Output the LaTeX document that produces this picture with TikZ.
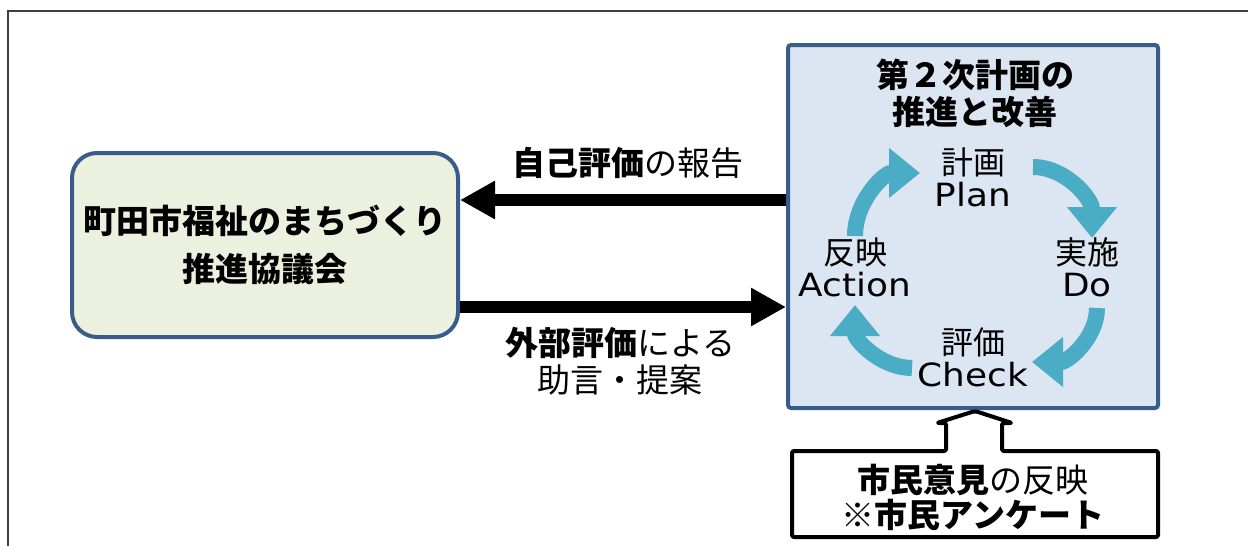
\documentclass[tikz,border=0pt]{standalone}
\usepackage{fontspec}
\setmainfont{Noto Sans CJK JP}
\newfontfamily\latinf[FakeStretch=1.12]{DejaVu Sans}
\usetikzlibrary{arrows.meta,calc}
\definecolor{boxblue}{HTML}{385D8A}
\definecolor{planfill}{HTML}{DCE6F2}
\definecolor{councilfill}{HTML}{EBF1DE}
\definecolor{cyc}{HTML}{4BACC6}
\definecolor{framegray}{HTML}{3F3F3F}
\begin{document}
\begin{tikzpicture}[x=1pt,y=-1pt,
  frameline/.style={draw=framegray,line width=1.5pt},
  councilbox/.style={draw=boxblue,line width=4pt,fill=councilfill,rounded corners=25pt,
    minimum width=386pt,minimum height=184pt,inner sep=0pt,align=center,
    font=\fontsize{33}{48}\selectfont\bfseries},
  planbox/.style={draw=boxblue,line width=4pt,fill=planfill,rounded corners=3pt,
    minimum width=370pt,minimum height=363pt,inner sep=0pt},
  titletext/.style={inner sep=0pt,align=center,font=\fontsize{33}{37}\selectfont\bfseries},
  cyclabel/.style={inner sep=0pt,align=center,font=\fontsize{32}{32}\selectfont},
  midlabel/.style={inner sep=0pt,align=center,font=\fontsize{33}{37}\selectfont},
  calloutlabel/.style={inner sep=0pt,align=center,font=\fontsize{33}{35}\selectfont},
  bigarrow/.style={draw=black,line width=12pt,-{Triangle[length=35pt,width=36pt]}},
  cycarrow/.style={draw=cyc,line width=16pt,-{Triangle[length=31pt,width=48pt]}},
  calloutline/.style={draw=black,line width=4pt,rounded corners=2pt,line join=round}
]
\useasboundingbox (0,0) rectangle (1248,546);
\fill[white] (0,0) rectangle (1248,546);
\draw[frameline] (8,548) -- (8,11) -- (1250,11);

% boxes
\node[councilbox] (council) at (265,245) {町田市福祉のまちづくり\\推進協議会};
\node[planbox] (plan) at (973,226.5) {};
\node[titletext] (title) at (975,93) {第２次計画の\\推進と改善};

% cycle labels
\node[cyclabel] (pl) at (973,177) {計画\\{\latinf Plan}};
\node[cyclabel] (do) at (1087,267) {実施\\{\latinf Do}};
\node[cyclabel] (ch) at (973,357) {評価\\{\latinf Check}};
\node[cyclabel] (ac) at (855,267) {反映\\{\latinf Action}};

% cycle arrows
\draw[cycarrow] (1033,167) arc[start angle=-90,end angle=0,x radius=59,y radius=71];
\draw[cycarrow] (1097,308) arc[start angle=0,end angle=90,x radius=65,y radius=54];
\draw[cycarrow] (912,368) arc[start angle=90,end angle=180,x radius=57,y radius=63];
\draw[cycarrow] (855,236) arc[start angle=180,end angle=270,x radius=65,y radius=63];

% big arrows
\draw[bigarrow] ($(plan.west)+(0,-26.5)$) -- ($(council.east)+(0,-45)$);
\draw[bigarrow] ($(council.east)+(0,62)$) -- ($(plan.west)+(0,80.5)$);

% labels
\node[midlabel] (selfeval) at (628,163) {{\bfseries 自己評価}の報告};
\node[midlabel] (exteval) at (620,361) {{\bfseries 外部評価}による\\助言・提案};

% citizen callout
\draw[calloutline] (792,451) -- (946,451) -- (946,423) -- (937,423) -- (975,411)
  -- (1012,423) -- (1002,423) -- (1002,451) -- (1158,451) -- (1158,537)
  -- (792,537) -- cycle;
\node[calloutlabel] (opinion) at (973,497) {{\bfseries 市民意見}の反映\\{\bfseries ※市民アンケート}};
\end{tikzpicture}
\end{document}
